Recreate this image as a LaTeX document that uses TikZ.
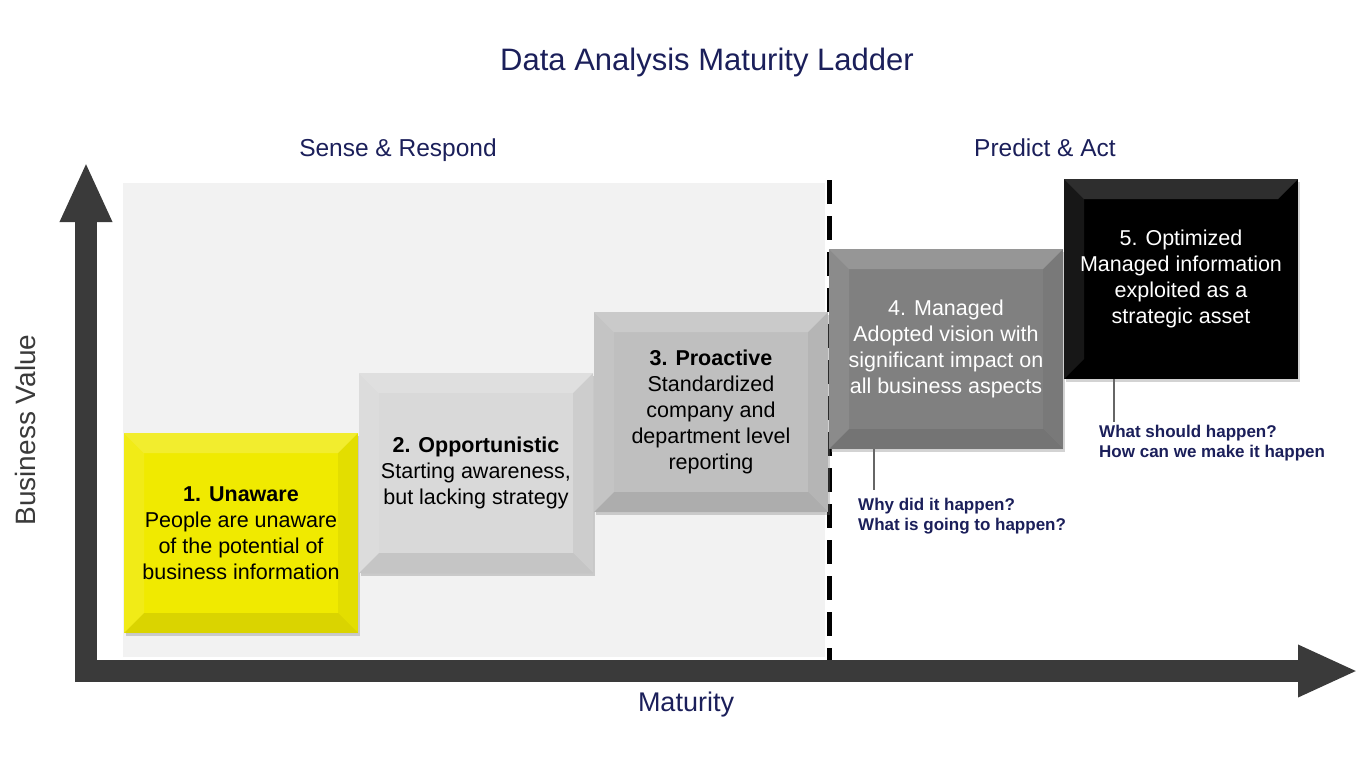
\documentclass[tikz,border=0pt]{standalone}
\usepackage{fontspec}
\setmainfont{Liberation Sans}
\usetikzlibrary{arrows.meta,shadows}

\definecolor{navy}{RGB}{27,31,90}
\definecolor{axisgray}{RGB}{58,58,58}
\definecolor{lvlyellow}{RGB}{240,234,0}

\begin{document}
\begin{tikzpicture}[x=1pt, y=-1pt,
    level/.style={rectangle, minimum width=234pt, minimum height=200pt, inner sep=0pt, align=center,
      font=\fontsize{21.5}{26}\selectfont, bevel,
      drop shadow={shadow xshift=2pt, shadow yshift=-3pt, opacity=0.35}},
    bevel/.style={path picture={
      \fill[white, opacity=0.18] (path picture bounding box.north west) -- (path picture bounding box.north east)
        -- ([xshift=-20pt,yshift=-20pt]path picture bounding box.north east) -- ([xshift=20pt,yshift=-20pt]path picture bounding box.north west) -- cycle;
      \fill[white, opacity=0.09] (path picture bounding box.north west) -- (path picture bounding box.south west)
        -- ([xshift=20pt,yshift=20pt]path picture bounding box.south west) -- ([xshift=20pt,yshift=-20pt]path picture bounding box.north west) -- cycle;
      \fill[black, opacity=0.09] (path picture bounding box.south west) -- (path picture bounding box.south east)
        -- ([xshift=-20pt,yshift=20pt]path picture bounding box.south east) -- ([xshift=20pt,yshift=20pt]path picture bounding box.south west) -- cycle;
      \fill[black, opacity=0.05] (path picture bounding box.north east) -- (path picture bounding box.south east)
        -- ([xshift=-20pt,yshift=20pt]path picture bounding box.south east) -- ([xshift=-20pt,yshift=-20pt]path picture bounding box.north east) -- cycle;
    }},
    axis/.style={line width=22pt, draw=axisgray, -{Triangle[width=48pt, length=60pt]}},
    lead/.style={line width=2.5pt, draw=black!60},
    question/.style={anchor=north west, inner sep=0pt, align=left, text=navy, font=\bfseries\fontsize{17}{20}\selectfont},
    heading/.style={text=navy, font=\fontsize{24.5}{28}\selectfont}
]
\useasboundingbox (0,0) rectangle (1360,772);

% Headings
\node[text=navy, font=\fontsize{31}{34}\selectfont] (title) at (707,62) {Data Analysis Maturity Ladder};
\node[heading] (sense) at (398,150) {Sense \& Respond};
\node[heading] (predict) at (1045,148) {Predict \& Act};

% Sense & Respond area
\fill[black!5] (123,183) rectangle (825,657);
\draw[line width=5pt, dash pattern=on 24pt off 12pt] (829,180) -- (829,668);

% Axes
\coordinate (origin) at (86,682);
\coordinate (ytop) at (86,162);
\coordinate (xorig) at (75,671);
\coordinate (xend) at (1358,671);
\draw[axis] (origin) -- (ytop);
\draw[axis] (xorig) -- (xend);
\node[rotate=90, text=axisgray, font=\fontsize{28}{32}\selectfont] (value) at (25,430) {Business Value};
\node[text=navy, font=\fontsize{27}{30}\selectfont] (maturity) at (686,705) {Maturity};

% Levels
\node[level, fill=lvlyellow] (unaware) at (241,533) {\textbf{1. Unaware}\\People are unaware\\of the potential of\\business information};
\node[level, fill=black!15] (opportunistic) at (476,473) {\textbf{2. Opportunistic}\\Starting awareness,\\but lacking strategy};
\node[level, fill=black!25] (proactive) at (711,412) {\textbf{3. Proactive}\\Standardized\\company and\\department level\\reporting};
\node[level, fill=black!50, text=white] (managed) at (946,349) {4. Managed\\Adopted vision with\\significant impact on\\all business aspects};
\node[level, fill=black, text=white] (optimized) at (1181,279) {5. Optimized\\Managed information\\exploited as a\\strategic asset};

% Questions
\coordinate (q4) at (874,490);
\coordinate (q5) at (1114,422);
\draw[lead] (managed.south -| q4) -- (q4);
\draw[lead] (optimized.south -| q5) -- (q5);
\node[question] (why) at (858,498) {Why did it happen?\\What is going to happen?};
\node[question] (what) at (1099,425) {What should happen?\\How can we make it happen};

\end{tikzpicture}
\end{document}
